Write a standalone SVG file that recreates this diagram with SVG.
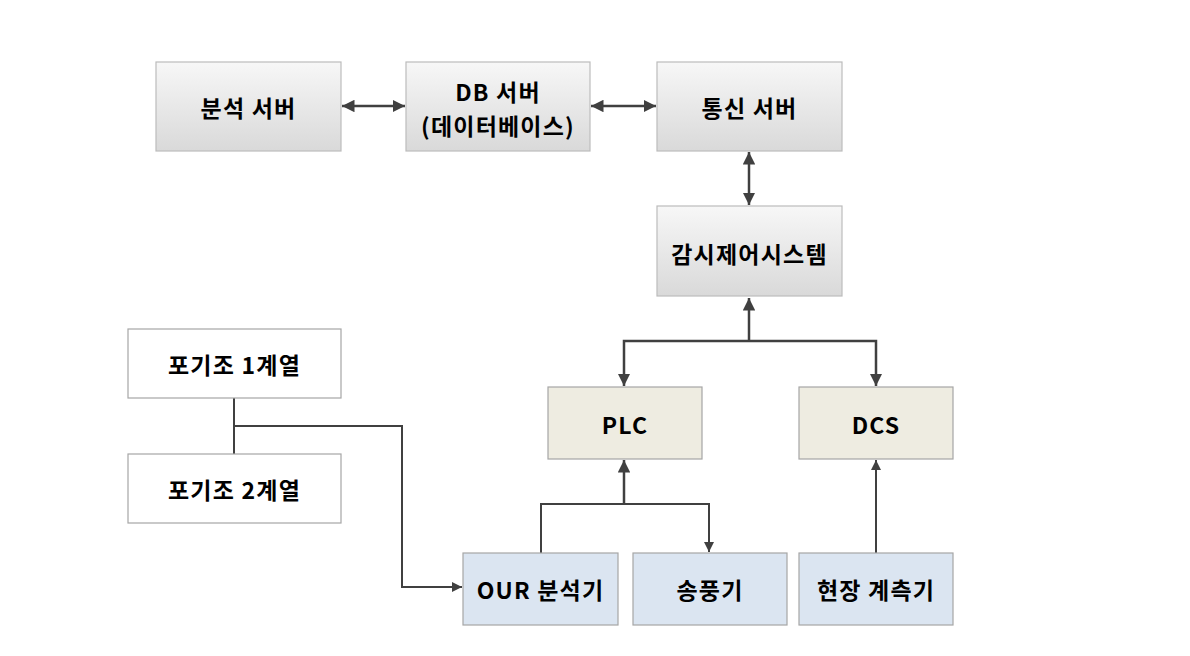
<svg xmlns="http://www.w3.org/2000/svg" width="1190" height="656" viewBox="0 0 1190 656">
<style>
.lbl{font-family:"Malgun Gothic","Noto Sans CJK KR","Noto Sans",sans-serif;font-weight:bold;font-size:23px;letter-spacing:1.2px;fill:#000;text-anchor:middle;dominant-baseline:central}
.gray{fill:url(#gg);stroke:#bcbcbc;stroke-width:1.2}
.tan{fill:#eeece1;stroke:#a6a6a6;stroke-width:1.2}
.blue{fill:#dbe5f1;stroke:#a6a6a6;stroke-width:1.2}
.white{fill:#fff;stroke:#a6a6a6;stroke-width:1.2}
.con{fill:none;stroke:#404040;stroke-width:2.5}
.thin{fill:none;stroke:#404040;stroke-width:2}
</style>
<defs>
<linearGradient id="gg" x1="0" y1="0" x2="0" y2="1">
<stop offset="0" stop-color="#f7f7f7"/>
<stop offset="1" stop-color="#d9d9d9"/>
</linearGradient>
<marker id="ah" viewBox="0 0 10 10" refX="10" refY="5" markerWidth="5" markerHeight="5" markerUnits="strokeWidth" orient="auto-start-reverse">
<path d="M0,0 L10,5 L0,10 Z" fill="#404040"/>
</marker>
</defs>
<rect width="1190" height="656" fill="#fff"/>
<g id="connectors">
<line class="con" x1="342" y1="106" x2="405" y2="106" marker-start="url(#ah)" marker-end="url(#ah)"/>
<line class="con" x1="591" y1="106" x2="656" y2="106" marker-start="url(#ah)" marker-end="url(#ah)"/>
<line class="con" x1="749" y1="152" x2="749" y2="205" marker-start="url(#ah)" marker-end="url(#ah)"/>
<line class="con" x1="749" y1="341" x2="749" y2="298" marker-end="url(#ah)"/>
<polyline class="con" points="624,386 624,341 876,341 876,386" marker-start="url(#ah)" marker-end="url(#ah)"/>
<line class="con" x1="624" y1="504" x2="624" y2="460" marker-end="url(#ah)"/>
<polyline class="thin" points="541,553 541,504 709,504 709,552" marker-end="url(#ah)"/>
<line class="thin" x1="876" y1="553" x2="876" y2="460" marker-end="url(#ah)"/>
<line class="thin" x1="234" y1="398" x2="234" y2="454"/>
<polyline class="thin" points="234,426 402,426 402,587 462,587" marker-end="url(#ah)"/>
</g>
<g id="n-analysis-server"><rect class="gray" x="156" y="62" width="185" height="89"/><text class="lbl" x="248.5" y="107">분석 서버</text></g>
<g id="n-db-server"><rect class="gray" x="406" y="62" width="184" height="89"/><text class="lbl" x="498" y="91">DB 서버</text><text class="lbl" x="498" y="125">(데이터베이스)</text></g>
<g id="n-comm-server"><rect class="gray" x="657" y="62" width="185" height="89"/><text class="lbl" x="749.5" y="107">통신 서버</text></g>
<g id="n-scada"><rect class="gray" x="657" y="206" width="185" height="90"/><text class="lbl" x="749.5" y="253">감시제어시스템</text></g>
<g id="n-plc"><rect class="tan" x="548" y="387" width="154" height="72"/><text class="lbl" x="625" y="424">PLC</text></g>
<g id="n-dcs"><rect class="tan" x="799" y="387" width="154" height="72"/><text class="lbl" x="876" y="424">DCS</text></g>
<g id="n-tank1"><rect class="white" x="128" y="329" width="213" height="69"/><text class="lbl" x="234.5" y="364">포기조 1계열</text></g>
<g id="n-tank2"><rect class="white" x="128" y="454" width="213" height="69"/><text class="lbl" x="234.5" y="489">포기조 2계열</text></g>
<g id="n-our"><rect class="blue" x="463" y="553" width="155" height="72"/><text class="lbl" x="540.5" y="589">OUR 분석기</text></g>
<g id="n-blower"><rect class="blue" x="633" y="553" width="154" height="72"/><text class="lbl" x="710" y="589">송풍기</text></g>
<g id="n-field"><rect class="blue" x="799" y="553" width="154" height="72"/><text class="lbl" x="876" y="589">현장 계측기</text></g>
</svg>
